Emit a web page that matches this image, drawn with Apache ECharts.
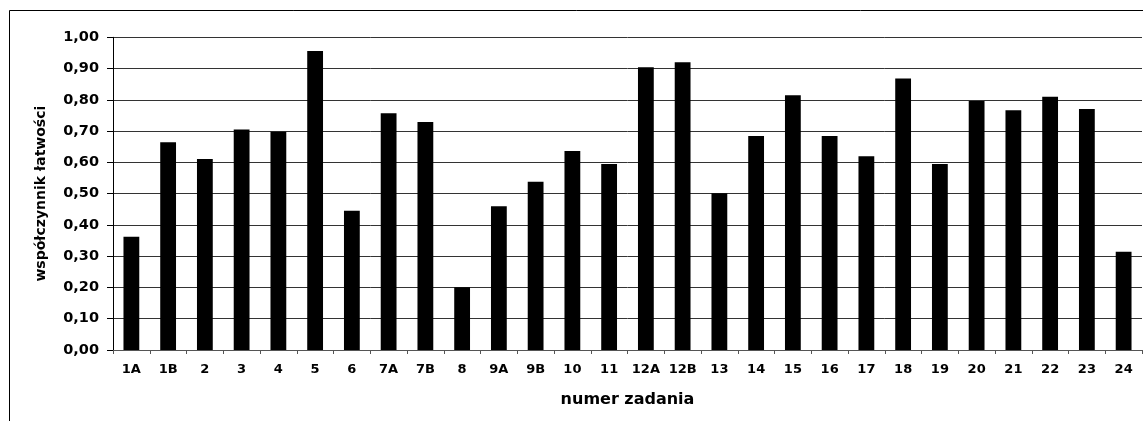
<!DOCTYPE html>
<html>
<head>
<meta charset="utf-8">
<script src="https://cdn.jsdelivr.net/npm/echarts@6/dist/echarts.min.js"></script>
<style>
html,body{margin:0;padding:0;background:#fff;}
#chart{width:1143px;height:421px;}
</style>
</head>
<body>
<div id="chart"></div>
<script>
const categories = ['1A','1B','2','3','4','5','6','7A','7B','8','9A','9B','10','11','12A','12B','13','14','15','16','17','18','19','20','21','22','23','24'];
const values = [0.362,0.664,0.611,0.705,0.698,0.956,0.445,0.757,0.729,0.201,0.460,0.538,0.636,0.595,0.904,0.920,0.501,0.684,0.815,0.684,0.620,0.868,0.595,0.796,0.767,0.810,0.771,0.314];
const xTitle = 'numer zadania';
const yTitle = 'współczynnik łatwości';

const font = 'DejaVu Sans';
const chart = echarts.init(document.getElementById('chart'), null, {renderer:'canvas'});
chart.setOption({
  animation:false,
  backgroundColor:'#fff',
  graphic:[{
    type:'rect', silent:true, z:0,
    shape:{x:9.5,y:10.5,width:1300,height:600},
    style:{fill:'none',stroke:'#000',lineWidth:1}
  }],
  grid:{left:113,right:1,top:37.3,bottom:71,containLabel:false},
  xAxis:{
    type:'category',
    data:categories,
    boundaryGap:true,
    axisLine:{lineStyle:{color:'#555',width:1}},
    axisTick:{show:true,length:4,inside:false,lineStyle:{color:'#555'}},
    axisLabel:{margin:13,color:'#000',fontFamily:font,fontWeight:'bold',fontSize:13,interval:0},
    name:xTitle,
    nameLocation:'middle',
    nameGap:42,
    nameTextStyle:{fontFamily:font,fontWeight:'bold',fontSize:16,color:'#000'}
  },
  yAxis:{
    type:'value',
    min:0,max:1,interval:0.1,
    axisLine:{show:true,lineStyle:{color:'#000',width:1}},
    axisTick:{show:true,length:6,lineStyle:{color:'#000'}},
    splitLine:{show:true,lineStyle:{color:'#333',width:1}},
    axisLabel:{margin:14,color:'#000',fontFamily:font,fontWeight:'bold',fontSize:14.5,
      formatter:function(v){return v.toFixed(2).replace('.',',');}},
    name:yTitle,
    nameLocation:'middle',
    nameGap:65,
    nameRotate:90,
    nameTextStyle:{fontFamily:font,fontWeight:'bold',fontSize:14,color:'#000'}
  },
  series:[{
    type:'bar',
    data:values,
    barWidth:'43%',
    itemStyle:{color:'#000'},
    z:3
  }]
});
</script>
</body>
</html>
